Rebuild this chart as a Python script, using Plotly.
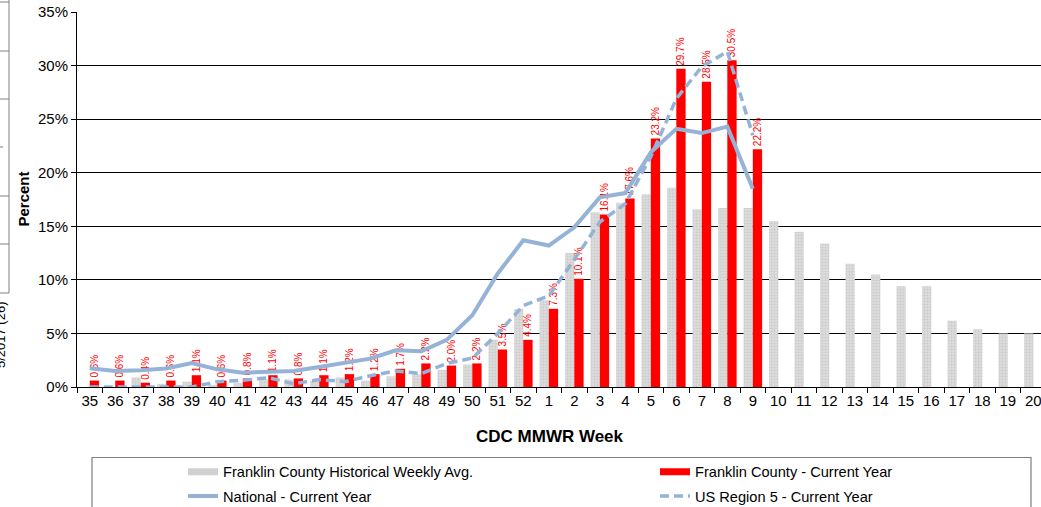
import plotly.graph_objects as go

weeks = ["35", "36", "37", "38", "39", "40", "41", "42", "43", "44", "45", "46",
         "47", "48", "49", "50", "51", "52", "1", "2", "3", "4", "5", "6", "7",
         "8", "9", "10", "11", "12", "13", "14", "15", "16", "17", "18", "19", "20"]

historical = [0.0, 0.0, 0.9, 0.3, 0.5, 0.2, 0.4, 0.7, 0.7, 0.6,
              0.9, 0.6, 1.0, 1.2, 1.6, 2.1, 4.4, 7.3,
              8.1, 12.5, 16.3, 17.2, 18.0, 18.6, 16.6, 16.7, 16.7,
              15.5, 14.5, 13.4, 11.5, 10.5, 9.4, 9.4, 6.2, 5.4, 5.0, 5.0]

current = [0.6, 0.6, 0.4, 0.6, 1.1, 0.6, 0.8, 1.1, 0.8, 1.1,
           1.2, 1.2, 1.7, 2.2, 2.0, 2.2, 3.5, 4.4,
           7.3, 10.1, 16.1, 17.6, 23.2, 29.7, 28.5, 30.5, 22.2] + [None] * 11

national = [1.75, 1.5, 1.56, 1.72, 2.24, 1.65, 1.34, 1.46, 1.5, 1.87,
            2.3, 2.65, 3.43, 3.33, 4.4, 6.7, 10.6, 13.7,
            13.2, 14.9, 17.7, 18.1, 21.9, 24.1, 23.7, 24.3, 18.5] + [None] * 11

region5 = [0.0, 0.0, 0.0, 0.0, 0.0, 0.5, 0.62, 0.87, 0.3, 0.69,
           0.5, 1.05, 1.5, 1.25, 2.2, 2.7, 5.0, 7.6,
           8.5, 11.9, 15.4, 17.1, 21.5, 26.9, 29.9, 31.3, 23.5] + [None] * 11

y_ticks = [0, 5, 10, 15, 20, 25, 30, 35]
y_tick_text = ["0%", "5%", "10%", "15%", "20%", "25%", "30%", "35%"]

FONT = "Liberation Sans, Arial, sans-serif"
BLUE = "#95B3D7"
RED = "#FF0000"
GREY = "#d8d8d8"

W, H = 1041, 507
L, R, T, B = 77, 0, 12, 120
PW, PH = W - L - R, H - T - B


def px(x):
    return (x - L) / PW


def py(y):
    return (H - B - y) / PH


fig = go.Figure()

fig.add_trace(go.Bar(
    x=weeks, y=historical, name="Franklin County Historical Weekly Avg.",
    marker=dict(color=GREY, line=dict(width=0),
                pattern=dict(shape=".", fgcolor="#bababa", bgcolor="#dcdcdc",
                             size=3, solidity=0.35)),
    showlegend=False, hoverinfo="x+y"))

fig.add_trace(go.Bar(
    x=weeks, y=current, name="Franklin County - Current Year",
    marker=dict(color=RED, line=dict(width=0)),
    text=[("%.1f%%" % v) if v is not None else "" for v in current],
    textposition="outside", textangle=-90, constraintext="none",
    textfont=dict(family=FONT, size=10, color=RED),
    cliponaxis=False, showlegend=False))

# legend-only entries for the bar series
fig.add_trace(go.Scatter(x=[None], y=[None], mode="lines",
                         name="Franklin County Historical Weekly Avg.",
                         line=dict(color="#d0d0d0", width=7), legend="legend"))
fig.add_trace(go.Scatter(x=[None], y=[None], mode="lines",
                         name="Franklin County - Current Year",
                         line=dict(color=RED, width=7), legend="legend"))

fig.add_trace(go.Scatter(
    x=weeks, y=national, name="National - Current Year", mode="lines",
    line=dict(color=BLUE, width=4), legend="legend2"))

fig.add_trace(go.Scatter(
    x=weeks, y=region5, name="US Region 5 - Current Year", mode="lines",
    line=dict(color=BLUE, width=3.5, dash="9px,5px"), legend="legend2"))

shapes = [
    # legend frame
    dict(type="rect", xref="paper", yref="paper",
         x0=px(92), x1=px(1031), y0=py(520), y1=py(457.5),
         line=dict(color="#7f7f7f", width=1.2), fillcolor="rgba(0,0,0,0)",
         layer="below"),
    # partial neighbour table at the far left edge
    dict(type="line", xref="paper", yref="paper",
         x0=px(9), x1=px(9), y0=py(0), y1=py(293),
         line=dict(color="#808080", width=1)),
]
for yy in [2, 51, 99, 196, 244, 293]:
    shapes.append(dict(type="line", xref="paper", yref="paper",
                       x0=px(0), x1=px(9), y0=py(yy), y1=py(yy),
                       line=dict(color="#808080", width=1)))
shapes.append(dict(type="line", xref="paper", yref="paper",
                   x0=px(0), x1=px(3), y0=py(147), y1=py(147),
                   line=dict(color="#808080", width=1)))

annotations = [
    dict(text="<b>Percent</b>", xref="paper", yref="paper",
         x=px(23), y=py(199.5), xanchor="center", yanchor="middle",
         textangle=-90, showarrow=False,
         font=dict(family=FONT, size=15, color="#000")),
    dict(text="<b>CDC MMWR Week</b>", xref="paper", yref="paper",
         x=px(550), y=py(436), xanchor="center", yanchor="middle",
         showarrow=False,
         font=dict(family=FONT, size=17, color="#000")),
    dict(text="5/2017 (26)", xref="paper", yref="paper",
         x=px(0), y=py(335), xanchor="center", yanchor="middle",
         textangle=-90, showarrow=False,
         font=dict(family=FONT, size=13, color="#000")),
]

legend_common = dict(orientation="h", x=px(183), xanchor="left",
                     yanchor="top", entrywidth=427, entrywidthmode="pixels",
                     font=dict(family=FONT, size=14.6, color="#000"),
                     bgcolor="rgba(0,0,0,0)", borderwidth=0,
                     traceorder="normal", itemwidth=30)

fig.update_layout(
    width=W, height=H,
    margin=dict(l=L, r=R, t=T, b=B, pad=0, autoexpand=False),
    paper_bgcolor="white", plot_bgcolor="white",
    font=dict(family=FONT, color="#000"),
    barmode="group", bargap=0.27, bargroupgap=0,
    showlegend=True,
    legend=dict(legend_common, y=py(455.7)),
    legend2=dict(legend_common, y=py(480)),
    shapes=shapes,
    annotations=annotations,
)

fig.update_xaxes(
    type="category", range=[-0.5, 37.3], tickangle=0, automargin=False,
    showline=True, linecolor="#000", linewidth=1,
    ticks="outside", tickson="boundaries", ticklen=5, tickcolor="#000",
    tickfont=dict(family=FONT, size=15, color="#000"),
    showgrid=False, zeroline=False, fixedrange=True)

fig.update_yaxes(
    range=[0, 35], tickvals=y_ticks, ticktext=y_tick_text, automargin=False,
    showline=True, linecolor="#000", linewidth=1,
    ticks="outside", ticklen=5, tickcolor="#000",
    tickfont=dict(family=FONT, size=15, color="#000"),
    showgrid=True, gridcolor="#000", gridwidth=1,
    zeroline=False, fixedrange=True)

fig.write_html("out.html",
               config={"displayModeBar": False},
               post_script="document.body.style.margin='0px';"
                           "document.body.style.overflow='hidden';")
